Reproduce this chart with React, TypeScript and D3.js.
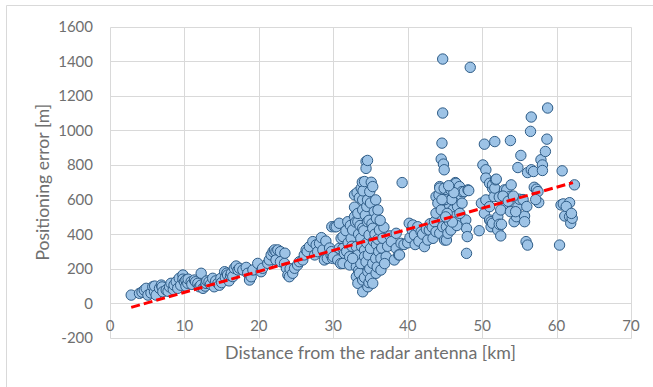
import * as d3 from "d3";
import { useEffect, useRef } from "react";

// [distance km, positioning error m]
const nearPts: [number, number][] = [
  [2.85, 48], [3.96, 58], [4.3, 65], [4.6, 77], [4.86, 87], [5.1, 48], [5.5, 60], [5.75, 96],
  [5.98, 67], [6.0, 100], [6.2, 48], [6.65, 87], [6.9, 106], [7.0, 95], [7.1, 67], [7.55, 77],
  [7.8, 70], [8.0, 96], [8.2, 116], [8.5, 80], [8.6, 106], [8.9, 125], [9.1, 87], [9.3, 145],
  [9.5, 105], [9.8, 164], [9.8, 140], [10.0, 125], [10.2, 135], [10.2, 100], [10.45, 116],
  [10.5, 140], [10.9, 125], [11.0, 110], [11.35, 135], [11.5, 125], [11.8, 116], [12.0, 96],
  [12.2, 105], [12.25, 174], [12.5, 87], [12.8, 100], [12.9, 116], [13.0, 130], [13.3, 125],
  [13.5, 110], [13.8, 145], [14.0, 96], [14.2, 130], [14.5, 116], [14.7, 105], [14.9, 145],
  [15.0, 120], [15.4, 183], [15.5, 150], [15.7, 175], [15.8, 164], [16.0, 130], [16.2, 160],
  [16.3, 174], [16.5, 155], [16.7, 203], [16.95, 216],
];

const risePts: [number, number][] = [
  [17.2, 193], [17.4, 203], [17.85, 193], [18.3, 208], [18.5, 174], [18.75, 135], [18.97, 154],
  [19.2, 193], [19.85, 231], [20.3, 183], [20.5, 203], [21.2, 231], [21.4, 251], [21.65, 280],
  [21.9, 299], [22.1, 309], [22.3, 299], [22.3, 251], [22.55, 309], [22.9, 299], [22.9, 241],
  [23.45, 231], [23.5, 290], [23.7, 203], [23.9, 164], [24.1, 154], [24.2, 200], [24.55, 174],
  [24.8, 203], [25.2, 222], [25.45, 241], [25.9, 251], [26.1, 280], [26.35, 309], [26.5, 300],
  [26.8, 328], [27.25, 357], [27.5, 280], [27.7, 338], [27.9, 299], [28.15, 347], [28.4, 380],
  [28.6, 309], [28.8, 251], [29.0, 360], [29.2, 260], [29.5, 320], [29.7, 280], [29.75, 299],
  [29.8, 443], [29.9, 260], [30.0, 270], [30.2, 443], [30.4, 443], [30.6, 251], [30.8, 463],
  [30.8, 318], [31.0, 230], [31.05, 376], [31.3, 318],
];

const peak34Pts: [number, number][] = [
  [31.3, 386], [31.3, 231], [31.5, 289], [31.7, 420], [31.8, 300], [31.95, 472], [32.0, 350],
  [32.2, 270], [32.2, 222], [32.3, 450], [32.4, 376], [32.5, 330], [32.6, 424], [32.85, 627],
  [32.85, 556], [32.85, 501], [33.0, 470], [33.1, 328], [33.1, 212], [33.1, 154], [33.2, 640],
  [33.3, 472], [33.3, 520], [33.3, 280], [33.3, 116], [33.4, 400], [33.4, 190], [33.5, 610],
  [33.5, 174], [33.6, 450], [33.7, 376], [33.7, 230], [33.75, 666], [33.8, 330], [33.9, 700],
  [33.95, 598], [33.95, 540], [33.95, 434], [33.95, 135], [33.95, 67], [34.0, 650], [34.1, 420],
  [34.2, 704], [34.2, 308], [34.2, 270], [34.2, 150], [34.3, 510], [34.4, 820], [34.4, 780],
  [34.4, 240], [34.5, 560], [34.5, 350], [34.6, 826], [34.6, 598], [34.6, 472], [34.65, 183],
  [34.65, 96], [34.7, 280], [34.8, 480], [34.8, 395], [34.8, 120], [34.9, 646], [34.9, 200],
  [35.0, 580], [35.0, 318], [35.0, 145], [35.1, 700], [35.2, 460], [35.3, 675], [35.3, 434],
  [35.3, 231], [35.3, 116], [35.4, 360], [35.5, 530], [35.6, 400], [35.7, 598], [35.7, 260],
  [35.75, 174], [35.8, 492], [35.8, 340], [35.9, 210], [36.0, 370], [36.1, 299], [36.2, 424],
  [36.4, 260], [36.4, 193], [36.5, 320], [36.65, 376], [36.8, 440], [37.1, 270], [37.3, 330],
  [37.6, 390], [37.8, 357], [36.3, 480], [36.0, 540], [32.6, 260], [36.9, 230],
];

const midPts: [number, number][] = [
  [38.2, 251], [38.45, 405], [38.45, 318], [38.8, 280], [38.9, 280], [39.1, 347], [39.25, 698],
  [39.5, 340], [40.0, 350], [40.2, 463], [40.3, 380], [40.6, 424], [40.7, 453], [40.9, 395],
  [41.0, 340], [41.35, 443], [41.5, 360], [41.8, 414], [42.0, 400], [42.25, 328], [42.5, 430],
  [42.7, 366], [42.9, 424], [43.0, 460], [43.3, 440], [43.4, 376], [43.6, 472], [43.8, 414],
  [43.8, 521], [43.8, 617], [44.05, 579], [44.2, 627], [44.3, 675], [44.3, 405], [44.3, 666],
];

const peak45Pts: [number, number][] = [
  [44.5, 540], [44.5, 834], [44.6, 926], [44.7, 1412], [44.7, 1100], [44.7, 482], [44.7, 443],
  [44.8, 805], [44.9, 772], [44.9, 665], [44.95, 366], [45.2, 443], [45.2, 366], [45.4, 405],
  [45.4, 617], [45.6, 569], [45.6, 472], [45.8, 656], [45.8, 424], [46.05, 540], [46.3, 501],
  [46.4, 698], [46.5, 694], [46.5, 617], [46.7, 559], [46.9, 482], [46.95, 675], [47.1, 627],
  [47.3, 579], [47.3, 646], [47.6, 646], [47.8, 482], [47.9, 434], [47.9, 289], [48.0, 386],
  [48.1, 656], [48.2, 652], [48.4, 1364], [45.0, 600], [45.3, 520], [45.9, 600], [46.2, 640],
  [46.6, 450], [47.0, 520], [45.5, 680], [46.0, 470], [44.6, 600], [45.1, 500],
];

const farPts: [number, number][] = [
  [49.6, 420], [49.9, 579], [50.1, 800], [50.3, 920], [50.3, 521], [50.5, 772], [50.5, 724],
  [50.5, 598], [51.0, 694], [51.0, 559], [51.0, 482], [51.2, 472], [51.2, 443], [51.4, 665],
  [51.4, 463], [51.4, 685], [51.6, 617], [51.7, 935], [51.7, 666], [51.8, 714], [51.9, 718],
  [52.1, 501], [52.1, 424], [52.3, 614], [52.3, 457], [52.5, 390], [52.6, 457], [53.0, 656],
  [53.2, 569], [53.3, 656], [53.7, 617], [53.8, 941], [53.9, 685], [54.3, 472], [54.6, 501],
  [54.8, 785], [54.8, 559], [55.0, 602], [55.2, 855], [55.7, 505], [55.7, 472], [55.9, 357],
  [56.1, 337], [56.1, 756], [56.5, 994], [56.6, 1077], [56.6, 772], [56.9, 762], [57.0, 671],
  [57.3, 660], [57.5, 646], [57.6, 583], [57.9, 830], [58.1, 800], [58.1, 768], [58.5, 878],
  [58.7, 949], [58.8, 1129], [60.4, 337], [60.6, 569], [60.75, 766], [60.9, 575], [61.1, 505],
  [61.75, 582], [61.75, 501], [61.9, 463], [62.1, 492], [62.4, 685], [52.8, 620], [53.5, 590],
  [54.2, 620], [55.5, 600], [56.0, 560], [52.5, 540], [53.8, 530], [54.5, 530], [57.2, 600],
  [61.3, 560], [62.0, 520],
];

// linear trendline end points
const trendKm = [2.85, 62.2];
const trendM = [-23, 698];

const xTicks = [0, 10, 20, 30, 40, 50, 60, 70];
const yTicks = [-200, 0, 200, 400, 600, 800, 1000, 1200, 1400, 1600];

const W = 653;
const H = 387;

export default function App() {
  const svgRef = useRef<SVGSVGElement>(null);

  useEffect(() => {
    document.body.style.margin = "0";
    if (!svgRef.current) return;
    const svg = d3.select(svgRef.current);
    svg.selectAll("*").remove();

    const font = "Lato, 'Open Sans', sans-serif";
    const left = 110, right = 631, top = 26.5, bottom = 338;
    const x = d3.scaleLinear().domain([0, 70]).range([left, right]);
    const y = d3.scaleLinear().domain([-200, 1600]).range([bottom, top]);
    const px = (v: number) => Math.round(v) + 0.5;

    svg.append("rect").attr("width", W).attr("height", H).attr("fill", "#fff");
    // chart area border (cropped on right/bottom)
    svg.append("path")
      .attr("d", `M6.5,${H + 2} V5.5 H${W + 2}`)
      .attr("fill", "none").attr("stroke", "#d9d9d9").attr("stroke-width", 1);

    // gridlines
    const g = svg.append("g");
    g.selectAll(".gx").data(xTicks).enter().append("line")
      .attr("x1", (d) => px(x(d))).attr("x2", (d) => px(x(d)))
      .attr("y1", px(y(1600))).attr("y2", px(y(-200)))
      .attr("stroke", "#d9d9d9");
    g.selectAll(".gy").data(yTicks).enter().append("line")
      .attr("x1", px(x(0))).attr("x2", px(x(70)))
      .attr("y1", (d) => px(y(d))).attr("y2", (d) => px(y(d)))
      .attr("stroke", "#d9d9d9");

    // tick labels
    g.selectAll(".ty").data(yTicks).enter().append("text")
      .attr("x", 93).attr("y", (d) => y(d))
      .attr("dy", "0.36em")
      .attr("text-anchor", "end")
      .attr("font-family", font).attr("font-size", 15).attr("fill", "#6f6f6f")
      .text((d) => String(d));
    g.selectAll(".tx").data(xTicks).enter().append("text")
      .attr("x", (d) => x(d)).attr("y", y(0) + 28)
      .attr("text-anchor", "middle")
      .attr("font-family", font).attr("font-size", 15).attr("fill", "#6f6f6f")
      .text((d) => String(d));

    // points
    const all = [...nearPts, ...risePts, ...peak34Pts, ...midPts, ...peak45Pts, ...farPts];
    g.selectAll(".pt").data(all).enter().append("circle")
      .attr("cx", (d) => x(d[0])).attr("cy", (d) => y(d[1]))
      .attr("r", 5.2)
      .attr("fill", "#9dc3e6")
      .attr("stroke", "#2e5c87")
      .attr("stroke-width", 1);

    // trendline
    const line = d3.line<number>().x((d) => x(trendKm[d])).y((d) => y(trendM[d]));
    g.append("path").attr("d", line([0, 1]))
      .attr("fill", "none").attr("stroke", "#ff0000")
      .attr("stroke-width", 3).attr("stroke-dasharray", "9,4");

    // axis titles
    svg.append("text")
      .attr("x", (left + right) / 2).attr("y", 359)
      .attr("text-anchor", "middle")
      .attr("font-family", font).attr("font-size", 17.8).attr("fill", "#6f6f6f")
      .text("Distance from the radar antenna [km]");
    svg.append("text")
      .attr("transform", `translate(49,${(top + bottom) / 2}) rotate(-90)`)
      .attr("text-anchor", "middle")
      .attr("font-family", font).attr("font-size", 17.6).attr("fill", "#6f6f6f")
      .text("Positioning error [m]");
  }, []);

  return <svg ref={svgRef} width={W} height={H} style={{ display: "block" }} />;
}
